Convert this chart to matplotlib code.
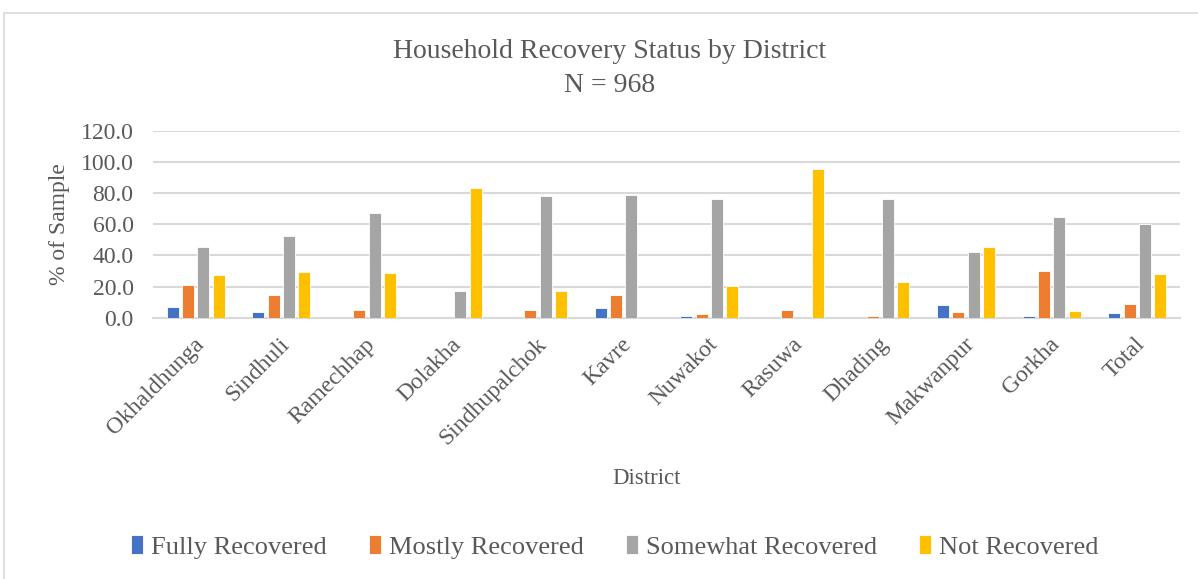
import matplotlib
matplotlib.use("Agg")
import matplotlib.pyplot as plt
import matplotlib.transforms as mtransforms
import numpy as np
from matplotlib.patches import Rectangle

districts = ["Okhaldhunga", "Sindhuli", "Ramechhap", "Dolakha", "Sindhupalchok", "Kavre",
             "Nuwakot", "Rasuwa", "Dhading", "Makwanpur", "Gorkha", "Total"]
fully = [7.1, 3.6, 0.0, 0.0, 0.0, 6.2, 1.3, 0.0, 0.0, 8.1, 1.1, 3.0]
mostly = [20.8, 14.6, 4.7, 0.0, 4.7, 14.6, 2.6, 4.7, 0.9, 3.6, 29.8, 8.8]
somewhat = [45.4, 52.7, 67.1, 16.9, 78.2, 79.1, 76.3, 0.0, 76.5, 42.2, 64.7, 60.4]
notrec = [27.4, 29.4, 28.5, 83.4, 17.1, 0.0, 20.6, 95.6, 22.7, 45.4, 4.5, 28.1]
series_names = ["Fully Recovered", "Mostly Recovered", "Somewhat Recovered", "Not Recovered"]
colors = ["#4472C4", "#ED7D31", "#A5A5A5", "#FFC000"]

plt.rcParams['font.family'] = ['Liberation Serif', 'DejaVu Serif']
txt = "#595959"

fig = plt.figure(figsize=(11.98, 5.79), dpi=100)
fig.patches.append(Rectangle((4/1198, -0.01), 1.1, 1 - 13/579 + 0.01, transform=fig.transFigure,
                             fill=False, edgecolor="#D9D9D9", linewidth=1.2))

left, right = 153/1198, 1180/1198
bottom, top = 1 - 317.7/579, 1 - 131/579
ax = fig.add_axes([left, bottom, right - left, top - bottom])

x = np.arange(len(districts))
w = 0.14
step = 0.179
for i, (vals, name, c) in enumerate(zip([fully, mostly, somewhat, notrec], series_names, colors)):
    ax.bar(x + (i - 1.5) * step, vals, width=w, color=c, label=name,
           edgecolor="white", linewidth=0.6, zorder=3)

ax.set_xlim(-0.5, len(districts) - 0.5)
ax.set_ylim(0, 120)
ax.set_yticks(np.arange(0, 121, 20))
ax.set_yticklabels([f"{v:.1f}" for v in np.arange(0, 121, 20)], fontsize=17, color=txt)
ax.set_xticks(x)
ax.set_xticklabels(districts, rotation=45, ha="right", va="center", rotation_mode="anchor",
                   fontsize=17, color=txt)
ax.tick_params(axis="y", length=0, pad=14)
ax.tick_params(axis="x", length=0, pad=17)
shift = mtransforms.ScaledTranslation(5/100, 0, fig.dpi_scale_trans)
for lab in ax.get_xticklabels():
    lab.set_transform(lab.get_transform() + shift)
ax.yaxis.grid(True, color="#D9D9D9", linewidth=1.5, zorder=0)
for s in ["top", "right", "left"]:
    ax.spines[s].set_visible(False)
ax.spines["bottom"].set_color("#D9D9D9")
ax.spines["bottom"].set_linewidth(1.5)

ax.set_ylabel("% of Sample", fontsize=17, color=txt)
ax.yaxis.set_label_coords((70 - 153) / (1180 - 153), 0.5)
fig.text(647/1198, 1 - 478/579, "District", fontsize=16.5, color=txt, ha="center", va="center")
fig.text(610/1198, 1 - 52/579, "Household Recovery Status by District", fontsize=20, color=txt, ha="center", va="center")
fig.text(610/1198, 1 - 85/579, "N = 968", fontsize=20, color=txt, ha="center", va="center")

fig.legend(loc="center", bbox_to_anchor=(615/1198, 1 - 547/579), ncol=4, frameon=False,
           fontsize=19, labelcolor=txt, handlelength=0.45, handleheight=0.7, handletextpad=0.3,
           columnspacing=1.6)

fig.savefig("out.png", dpi=100)
